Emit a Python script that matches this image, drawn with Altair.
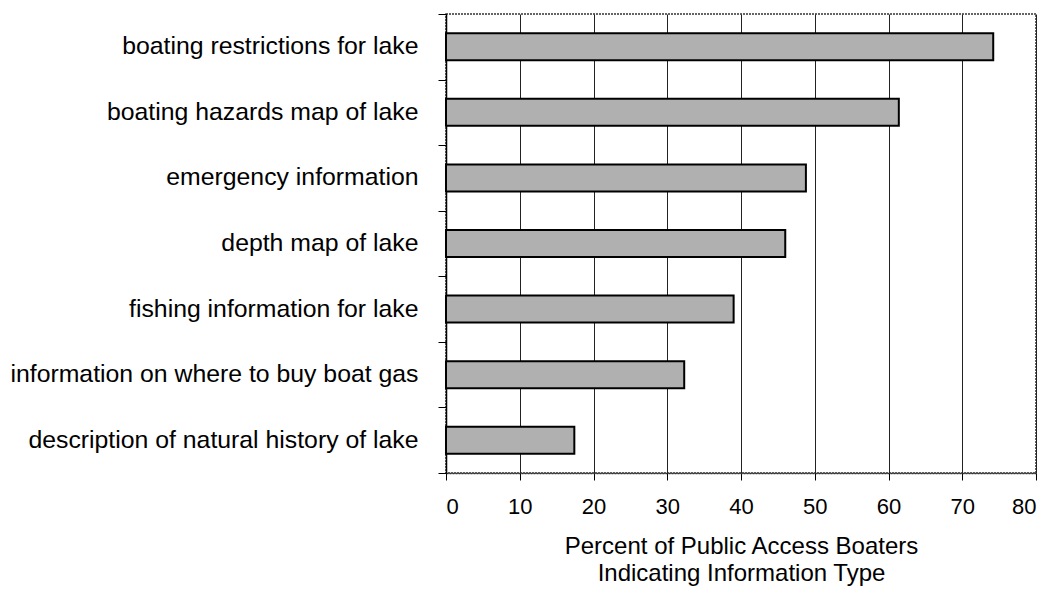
import altair as alt
import pandas as pd

categories = [
    "boating restrictions for lake",
    "boating hazards map of lake",
    "emergency information",
    "depth map of lake",
    "fishing information for lake",
    "information on where to buy boat gas",
    "description of natural history of lake",
]
values = [74.2, 61.4, 48.8, 46.0, 39.0, 32.3, 17.4]
x_ticks = [0, 10, 20, 30, 40, 50, 60, 70, 80]

df = pd.DataFrame({"category": categories, "value": values})

FONT = "Liberation Sans"

chart = (
    alt.Chart(df)
    .mark_bar(size=27, color="#b0b0b0", stroke="black", strokeWidth=2)
    .encode(
        y=alt.Y(
            "category:N",
            sort=None,
            title=None,
            scale=alt.Scale(paddingInner=0, paddingOuter=0),
            axis=alt.Axis(
                tickBand="extent",
                tickSize=8,
                tickColor="black",
                tickWidth=1,
                labelFontSize=24.8,
                labelFont=FONT,
                labelColor="black",
                labelPadding=20,
                labelLimit=600,
                domainColor="black",
                domainWidth=1.5,
                grid=False,
            ),
        ),
        x=alt.X(
            "value:Q",
            scale=alt.Scale(domain=[0, 80], nice=False),
            title=["Percent of Public Access Boaters", "Indicating Information Type"],
            axis=alt.Axis(
                values=x_ticks,
                tickSize=7,
                tickColor="black",
                tickWidth=1,
                labelFontSize=22,
                labelFont=FONT,
                labelColor="black",
                labelPadding=16,
                domainColor="#333",
                domainWidth=1.5,
                domainDash=[2, 1],
                grid=True,
                gridColor="#222",
                gridWidth=1,
                titleFont=FONT,
                titleFontSize=24,
                titleFontWeight="normal",
                titleColor="black",
                titleLineHeight=27,
                titlePadding=17,
            ),
        ),
    )
    .properties(
        width=590,
        height=459,
        autosize=alt.AutoSizeParams(type="none"),
        padding={"left": 438, "top": 6, "right": 5, "bottom": 121},
    )
    .configure_view(stroke="#333", strokeWidth=1.5, strokeDash=[2, 1])
)

chart.save("out.html", embed_options={"renderer": "svg", "actions": False})
